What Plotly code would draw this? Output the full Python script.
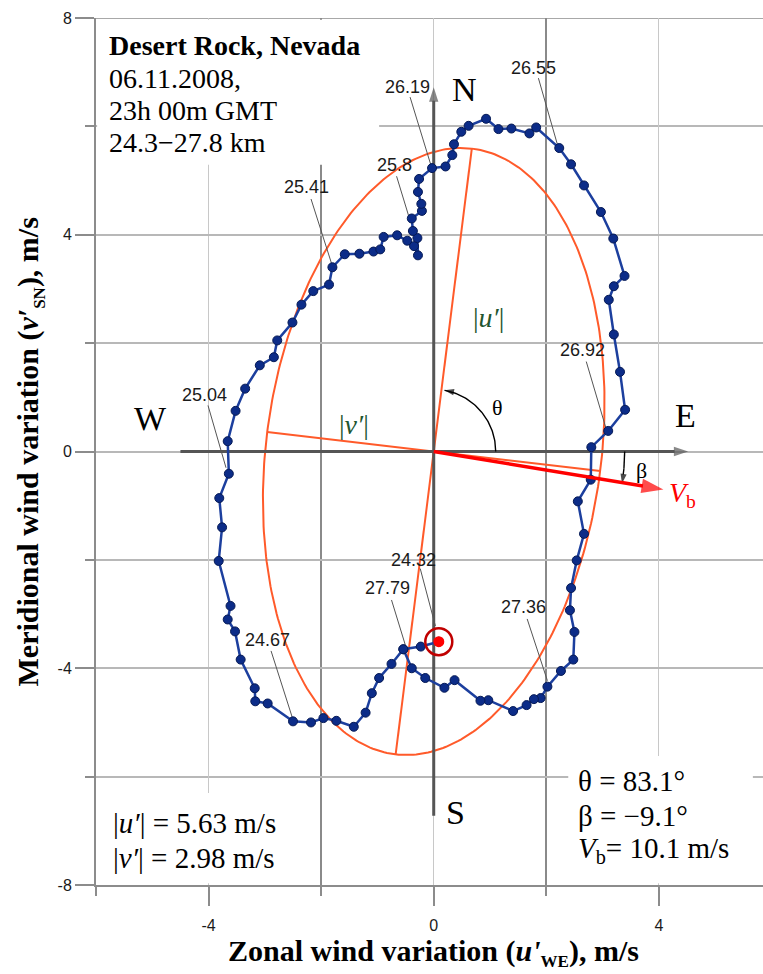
import numpy as np
import plotly.graph_objects as go

# ---------------- data ----------------
# hodograph of wind variations, chronological from 24.32 km to 27.79 km
u_we = [0.09, -0.23, -0.54, -0.75, -0.97, -1.10, -1.21, -1.42, -1.73, -1.96,
        -2.18, -2.50, -2.95, -3.17, -3.18, -3.43, -3.53, -3.66, -3.61, -3.82,
        -3.76, -3.81, -3.64, -3.66, -3.52, -3.35, -3.09, -2.84, -2.78, -2.51,
        -2.35, -2.14, -1.86, -1.80, -1.58, -1.32, -1.07, -0.95, -0.89, -0.65,
        -0.47, -0.35, -0.28, -0.29, -0.37, -0.39, -0.21, -0.22, -0.28, -0.26,
        -0.03, 0.21, 0.33, 0.36, 0.49, 0.62, 0.93, 1.15, 1.38, 1.70,
        1.82, 2.23, 2.44, 2.67, 2.97, 3.19, 3.39, 3.20, 3.11, 3.20,
        3.31, 3.40, 3.10, 2.80, 2.79, 2.56, 2.67, 2.54, 2.44, 2.42,
        2.50, 2.48, 2.26, 2.02, 1.90, 1.78, 1.65, 1.41, 0.97, 0.83,
        0.37, 0.19, -0.15, -0.39, -0.54]
v_sn = [-3.51, -3.60, -3.65, -3.92, -4.18, -4.46, -4.82, -5.08, -4.97, -4.92,
        -5.00, -4.98, -4.65, -4.61, -4.37, -3.84, -3.32, -3.10, -2.85, -2.02,
        -1.40, -0.86, -0.41, 0.19, 0.75, 1.16, 1.59, 1.74, 2.05, 2.38,
        2.71, 2.96, 3.08, 3.40, 3.64, 3.65, 3.69, 3.73, 3.96, 3.99,
        3.89, 3.79, 3.62, 3.94, 4.07, 4.30, 4.44, 4.57, 4.79, 5.03,
        5.23, 5.26, 5.47, 5.67, 5.90, 6.01, 6.14, 5.95, 5.96, 5.87,
        5.98, 5.60, 5.30, 4.91, 4.42, 3.93, 3.24, 3.05, 2.80, 2.16,
        1.47, 0.77, 0.38, 0.08, -0.52, -0.92, -1.52, -2.01, -2.52, -2.93,
        -3.33, -3.84, -4.05, -4.34, -4.55, -4.57, -4.68, -4.79, -4.59, -4.60,
        -4.22, -4.36, -4.18, -4.00, -3.65]

# altitude labels (km) and where they sit
alt_text = ["26.19", "26.55", "25.8", "25.41", "25.04", "24.67", "27.79", "24.32", "27.36", "26.92"]
alt_lab_x = [-0.47, 1.77, -0.70, -2.26, -4.08, -2.96, -0.83, -0.36, 1.59, 2.64]
alt_lab_y = [6.73, 7.08, 5.29, 4.88, 1.05, -3.48, -2.51, -2.01, -2.87, 1.87]
lead_x0 = [-0.42, 1.86, -0.66, -2.18, -4.01, -2.89, -0.75, -0.24, 1.66, 2.71]
lead_y0 = [6.54, 6.89, 5.08, 4.66, 0.85, -3.68, -2.74, -2.16, -3.09, 1.66]
lead_x1 = [-0.04, 2.21, -0.44, -1.80, -3.69, -2.50, -0.49, 0.03, 2.02, 3.06]
lead_y1 = [5.25, 5.62, 4.33, 3.42, -0.30, -4.95, -3.62, -3.22, -4.23, 0.43]

# fitted ellipse parameters
u_amp = 5.63      # |u'| m/s (semi-major)
v_amp = 2.98      # |v'| m/s (semi-minor)
theta_deg = 83.1  # orientation
beta_deg = -9.1
vb = 10.1
vb_tip = (4.08, -0.70)   # end of the drawn V_b arrow

x_ticks = [-4, 0, 4]
x_minor = [-6, -2, 2]
y_ticks = [-8, -4, 0, 4, 8]
y_minor = [-6, -2, 2, 6]

SERIF = "Liberation Serif"
SANS = "Liberation Sans"

fig = go.Figure()

# ---------------- ellipse and its axes ----------------
th = np.radians(theta_deg)
t = np.linspace(0, 2 * np.pi, 361)
ex = u_amp * np.cos(th) * np.cos(t) - v_amp * np.sin(th) * np.sin(t)
ey = u_amp * np.sin(th) * np.cos(t) + v_amp * np.cos(th) * np.sin(t)
ORANGE = "#ff5a2a"
fig.add_trace(go.Scatter(x=ex, y=ey, mode="lines", line=dict(color=ORANGE, width=2), hoverinfo="skip"))
maj = [u_amp * np.cos(th), u_amp * np.sin(th)]
mnr = [v_amp * np.cos(th + np.pi / 2), v_amp * np.sin(th + np.pi / 2)]
fig.add_trace(go.Scatter(x=[maj[0], -maj[0], None, mnr[0], -mnr[0]],
                         y=[maj[1], -maj[1], None, mnr[1], -mnr[1]],
                         mode="lines", line=dict(color=ORANGE, width=2), hoverinfo="skip"))


def arrow_line(xs, ys, color, width, head, symbol="arrow"):
    n = len(xs)
    fig.add_trace(go.Scatter(
        x=list(xs), y=list(ys), mode="lines+markers",
        line=dict(color=color, width=width),
        marker=dict(symbol=symbol, size=[0] * (n - 1) + [head], angleref="previous",
                    color=color, line=dict(width=0)),
        hoverinfo="skip"))


# ---------------- compass axes (W-E, S-N) ----------------
GRAY = "#555555"
arrow_line([-4.5, 4.52], [0, 0], GRAY, 3, 15)
arrow_line([0, 0], [-6.72, 6.72], GRAY, 3, 15)

# theta and beta arcs (drawn as circles in screen space)
sx, sy = 56.3, 54.1  # px per unit
a1 = np.radians(np.linspace(0, 80, 60))
r1 = 62
arrow_line(r1 * np.cos(a1) / sx, r1 * np.sin(a1) / sy, "black", 1.4, 10)
a2 = np.radians(np.linspace(0, -9.6, 20))
r2 = 191
arrow_line(r2 * np.cos(a2) / sx, r2 * np.sin(a2) / sy, "black", 1.4, 10)

# leader lines
lx, ly = [], []
for i in range(len(alt_text)):
    lx += [lead_x0[i], lead_x1[i], None]
    ly += [lead_y0[i], lead_y1[i], None]
fig.add_trace(go.Scatter(x=lx, y=ly, mode="lines", line=dict(color="#555555", width=1), hoverinfo="skip"))

# ---------------- hodograph ----------------
fig.add_trace(go.Scatter(x=u_we, y=v_sn, mode="lines+markers",
                         line=dict(color="#1c3f9e", width=2.5),
                         marker=dict(size=9, color="#0c2c88", line=dict(color="#061a55", width=1)),
                         hoverinfo="skip"))
# start point target
fig.add_trace(go.Scatter(x=[u_we[0]], y=[v_sn[0]], mode="markers",
                         marker=dict(symbol="circle-open", size=27, color="#c00000",
                                     line=dict(color="#c00000", width=2.5)),
                         hoverinfo="skip"))
fig.add_trace(go.Scatter(x=[u_we[0]], y=[v_sn[0]], mode="markers",
                         marker=dict(size=11, color="#ff0000", line=dict(width=0)), hoverinfo="skip"))

# V_b arrow
arrow_line([0, vb_tip[0]], [0, vb_tip[1]], "#ff0000", 3.5, 23)

ann = []


def txt(x, y, s, size, family=SERIF, color="black", anchor="center", **kw):
    d = dict(x=x, y=y, xref="x", yref="y", text=s, showarrow=False, xanchor=anchor, yanchor="middle",
             font=dict(family=family, size=size, color=color))
    d.update(kw)
    ann.append(d)


# compass letters
txt(0.55, 6.68, "N", 34)
txt(4.48, 0.67, "E", 34)
txt(-5.03, 0.60, "W", 34)
txt(0.39, -6.66, "S", 34)
txt(1.13, 0.81, "θ", 22)
txt(3.69, -0.35, "β", 22)
txt(4.15, -0.79, "<i>V</i><sub>b</sub>", 28, color="#ff0000", anchor="left")
GREEN = "#22552f"
txt(0.97, 2.48, "|<i>u′</i>|", 28, color=GREEN)
txt(-1.41, 0.50, "|<i>v′</i>|", 28, color=GREEN)

# altitude labels
for s, x, y in zip(alt_text, alt_lab_x, alt_lab_y):
    txt(x, y, s, 18, family=SANS, color="#1a1a1a")

# info boxes
txt(-5.80, 7.49, "<b>Desert Rock, Nevada</b>", 28, anchor="left")
txt(-5.80, 6.88, "06.11.2008,", 28, anchor="left")
txt(-5.80, 6.30, "23h 00m GMT", 28, anchor="left")
txt(-5.80, 5.71, "24.3−27.8 km", 28, anchor="left")
txt(-5.73, -6.86, "|<i>u′</i>| = 5.63 m/s", 29, anchor="left")
txt(-5.73, -7.50, "|<i>v′</i>| = 2.98 m/s", 29, anchor="left")
txt(2.53, -6.08, f"θ = {theta_deg}°", 29, anchor="left")
txt(2.53, -6.73, f"β = −{abs(beta_deg)}°", 29, anchor="left")
txt(2.53, -7.36, f"<i>V</i><sub>b</sub>= {vb} m/s", 29, anchor="left")

# axis titles
ann.append(dict(x=0, y=-0.0784, xref="x", yref="paper", showarrow=False, xanchor="center", yanchor="middle",
                text="<b>Zonal wind variation (<i>u'</i><sub><span style='font-size:17px'>WE</span></sub>), m/s</b>",
                font=dict(family=SERIF, size=30, color="black")))
ann.append(dict(x=-0.099, y=0.5, xref="paper", yref="paper", showarrow=False, xanchor="center", yanchor="middle",
                textangle=-90,
                text="<b>Meridional wind variation (<i>v′</i><sub><span style='font-size:17px'>SN</span></sub>), m/s</b>",
                font=dict(family=SERIF, size=30, color="black")))

shapes = [
    dict(type="rect", xref="x", yref="y", x0=-5.98, x1=-0.97, y0=5.29, y1=7.97, fillcolor="white",
         line=dict(width=0), layer="between"),
    dict(type="rect", xref="x", yref="y", x0=-5.98, x1=-2.35, y0=-7.97, y1=-6.30, fillcolor="white",
         line=dict(width=0), layer="between"),
    dict(type="rect", xref="x", yref="y", x0=2.39, x1=5.67, y0=-7.97, y1=-5.62, fillcolor="white",
         line=dict(width=0), layer="between"),
    dict(type="line", xref="paper", yref="y", x0=0, x1=1, y0=8, y1=8, line=dict(color="#a8a8a8", width=2),
         layer="below"),
]

fig.update_layout(
    width=763, height=974, margin=dict(l=96, r=0, t=18, b=89),
    paper_bgcolor="white", plot_bgcolor="white", showlegend=False,
    annotations=ann, shapes=shapes,
    xaxis=dict(range=[-6, 5.85], tickmode="array", tickvals=x_ticks, ticktext=[str(v) for v in x_ticks],
               ticks="outside", ticklen=19, tickwidth=1.5, tickcolor="#8c8c8c", ticklabelstandoff=6,
               showgrid=True, gridcolor="#c8c8c8", gridwidth=1.2, zeroline=False,
               showline=True, linecolor="#8c8c8c", linewidth=2,
               tickfont=dict(family=SANS, size=16, color="#1a1a1a"),
               minor=dict(tickmode="array", tickvals=x_minor, ticks="outside", ticklen=9, tickwidth=1.5,
                          tickcolor="#8c8c8c", showgrid=True, gridcolor="#8a8a8a", gridwidth=1.8)),
    yaxis=dict(range=[-8, 8], tickmode="array", tickvals=y_ticks, ticktext=[str(v) for v in y_ticks],
               ticks="outside", ticklen=19, tickwidth=1.5, tickcolor="#8c8c8c",
               showgrid=True, gridcolor="#b8b8b8", gridwidth=1.5, zeroline=False,
               showline=True, linecolor="#8c8c8c", linewidth=2,
               tickfont=dict(family=SANS, size=16, color="#1a1a1a"),
               minor=dict(tickmode="array", tickvals=y_minor, ticks="outside", ticklen=9, tickwidth=1.5,
                          tickcolor="#8c8c8c", showgrid=True, gridcolor="#b8b8b8", gridwidth=1.5)),
)

fig.write_html("out.html")
